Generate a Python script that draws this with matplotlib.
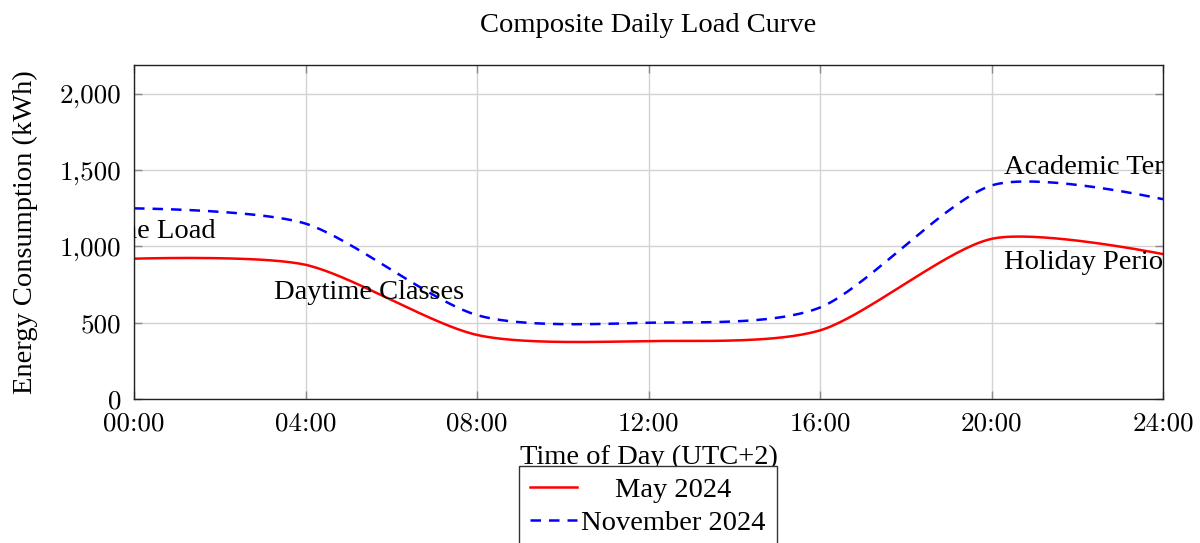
#!/usr/bin/env python3
"""Composite daily load curve (pgfplots look-alike)."""
import matplotlib

matplotlib.use("Agg")
import matplotlib.pyplot as plt  # noqa: E402
import numpy as np  # noqa: E402

# ---- data -----------------------------------------------------------------
hours = [0, 4, 8, 12, 16, 20, 24]
may_2024 = [920, 880, 420, 380, 450, 1050, 950]
nov_2024 = [1250, 1150, 550, 500, 600, 1400, 1310]
x_ticks = [0, 4, 8, 12, 16, 20, 24]
x_ticklabels = ["00:00", "04:00", "08:00", "12:00", "16:00", "20:00", "24:00"]
y_ticks = [0, 500, 1000, 1500, 2000]
y_ticklabels = ["0", "500", "1,000", "1,500", "2,000"]
notes = [("Baseline Load", 0.0, 1100, "center"),
         ("Daytime Classes", 5.47, 700, "center"),
         ("Academic Term", 20.28, 1520, "left"),
         ("Holiday Period", 20.28, 895, "left")]

TEXT_FONT = "Liberation Serif"
TICK_FONT = "cmr10"
FS = 20.5
GRID = "#d3d3d3"
TICK = "#8a8a8a"
plt.rcParams.update({"font.family": TEXT_FONT})


def smooth(xs, ys, tension=0.13, n=40):
    """TikZ-style 'smooth' rendering: cubic Bezier through the data points."""
    p = np.column_stack([xs, ys]).astype(float)
    out = []
    t = np.linspace(0, 1, n)[:, None]
    for i in range(len(p) - 1):
        a, b = p[i], p[i + 1]
        c1 = a if i == 0 else a + tension * (p[i + 1] - p[i - 1])
        c2 = b if i == len(p) - 2 else b - tension * (p[i + 2] - p[i])
        seg = ((1 - t) ** 3) * a + 3 * ((1 - t) ** 2) * t * c1 \
            + 3 * (1 - t) * t ** 2 * c2 + t ** 3 * b
        out.append(seg if i == 0 else seg[1:])
    out = np.vstack(out)
    return out[:, 0], out[:, 1]


def main():
    fig = plt.figure(figsize=(12, 5.43), dpi=100)
    ax = fig.add_axes([0.1117, 0.2652, 0.8575, 0.6151])

    sx, sy = smooth(hours, may_2024)
    ax.plot(sx, sy, color="red", lw=1.8, label="May 2024")
    sx, sy = smooth(hours, nov_2024)
    ax.plot(sx, sy, color="blue", lw=1.8, ls=(0, (4.2, 3.2)), label="November 2024")

    for txt, x, y, ha in notes:
        t = ax.text(x, y, txt, ha=ha, va="center", fontsize=FS, color="black")
        t.set_clip_on(True)

    ax.set_xlim(0, 24)
    ax.set_ylim(0, 2190)
    ax.set_xticks(x_ticks)
    ax.set_xticklabels(x_ticklabels, fontfamily=TICK_FONT)
    ax.set_yticks(y_ticks)
    ax.set_yticklabels(y_ticklabels, fontfamily=TICK_FONT)
    ax.tick_params(direction="in", length=6, width=1.0, color=TICK,
                   top=True, right=True, labelsize=19.5, pad=9)
    ax.grid(True, color=GRID, lw=1.0)
    ax.set_axisbelow(True)
    for s in ax.spines.values():
        s.set_linewidth(1.0)
        s.set_color("#222222")

    ax.set_title("Composite Daily Load Curve", fontsize=FS, pad=24)
    ax.set_xlabel("Time of Day (UTC+2)", fontsize=FS, labelpad=7)
    ax.set_ylabel("Energy Consumption (kWh)", fontsize=FS, labelpad=16)

    leg = fig.legend(loc="upper center", bbox_to_anchor=(0.54, 1 - 466 / 543),
                     borderaxespad=0, fontsize=FS, frameon=True, fancybox=False,
                     edgecolor="#333333", framealpha=1.0, handlelength=1.65,
                     borderpad=0.4, labelspacing=0.25, handletextpad=0.15)
    leg.get_frame().set_linewidth(1.0)

    # pgfplots centres legend texts inside their column
    fig.canvas.draw()
    r = fig.canvas.get_renderer()
    texts = leg.get_texts()
    widest = max(t.get_window_extent(r).width for t in texts)
    for t in texts:
        t.set_position(((widest - t.get_window_extent(r).width) / 2, 0))

    fig.savefig("out.png", dpi=100, facecolor="white")
    plt.close(fig)


if __name__ == "__main__":
    main()
